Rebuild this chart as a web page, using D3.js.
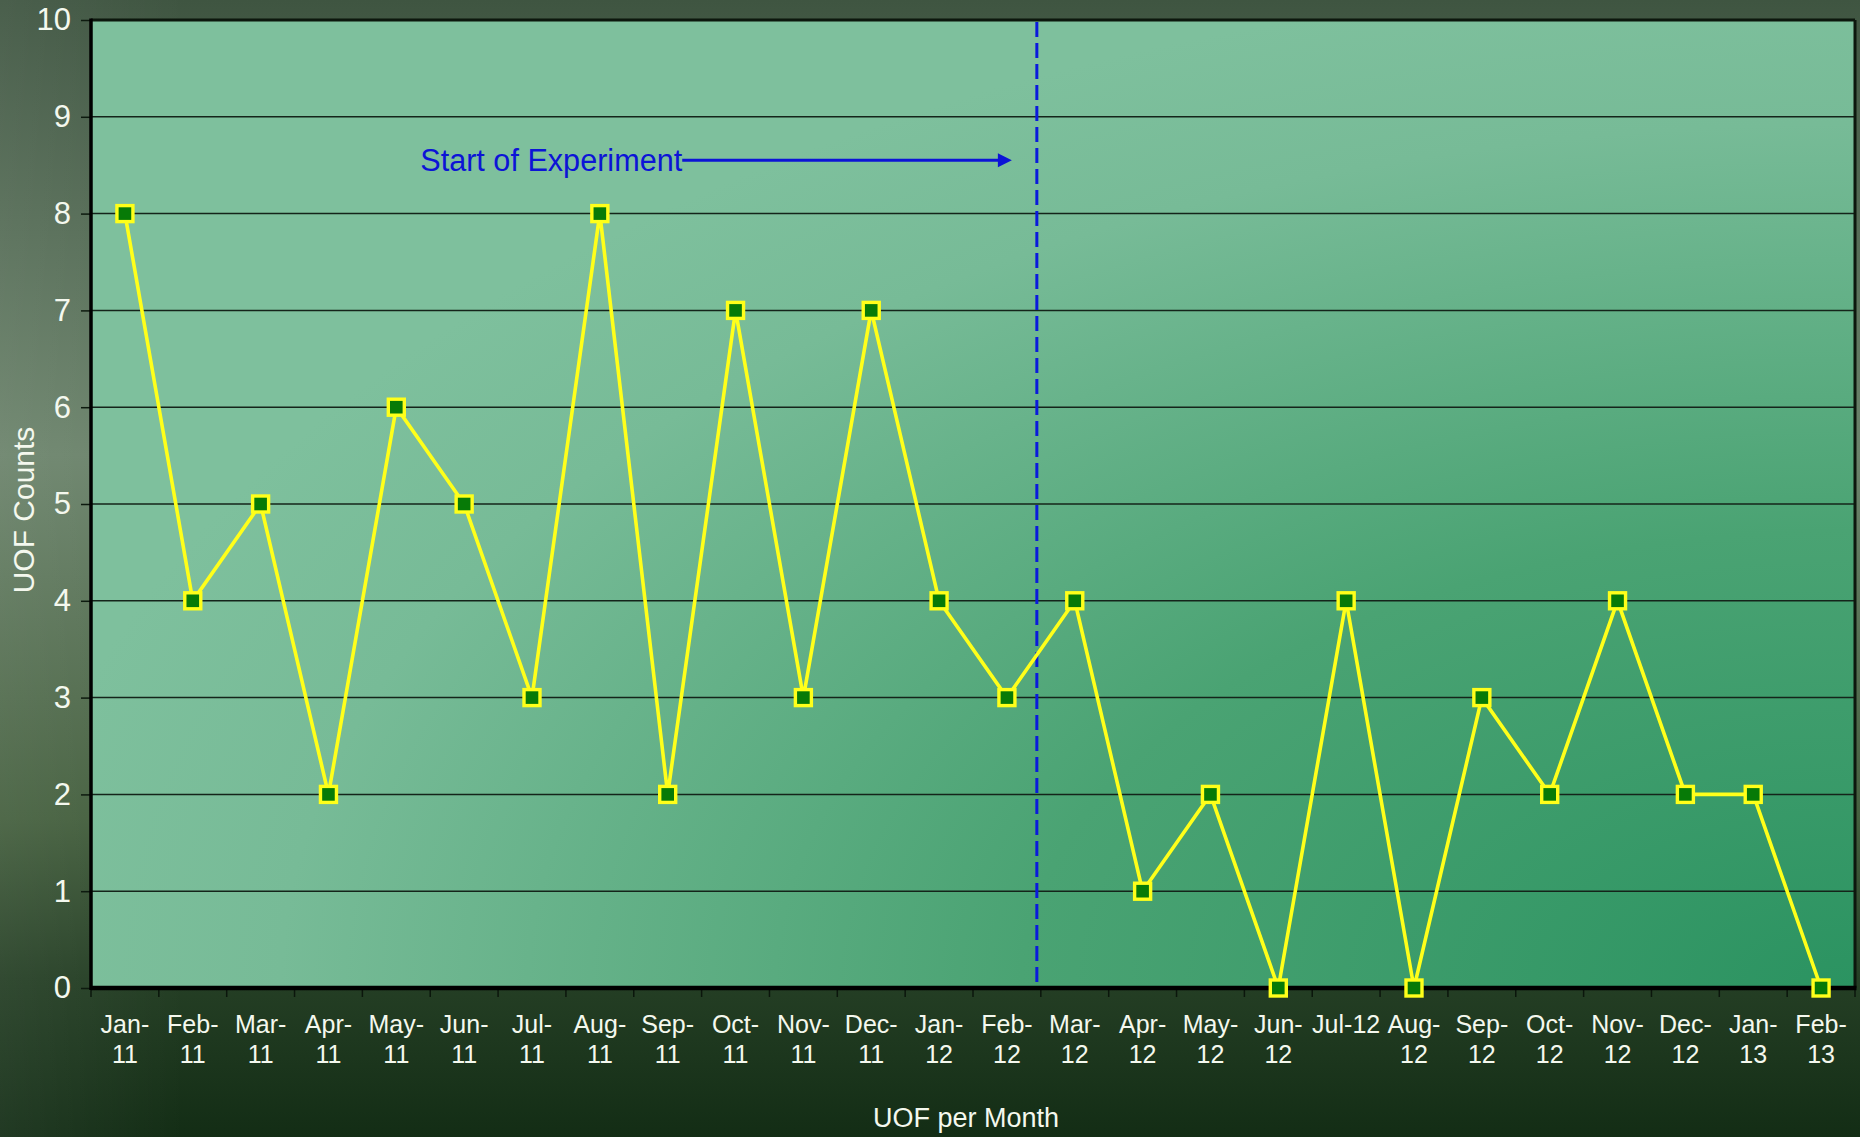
<!DOCTYPE html>
<html>
  <head>
    <meta charset="utf-8">
    <title>UOF per Month</title>
    <script src="https://d3js.org/d3.v7.min.js"></script>
    <style>
      body { margin: 0; background: #2a4029; }
      text { font-family: "Liberation Sans", Arial, sans-serif; }
    </style>
  </head>
  <body>
  <script>
  // data
  var months = ["Jan-11","Feb-11","Mar-11","Apr-11","May-11","Jun-11","Jul-11","Aug-11","Sep-11","Oct-11","Nov-11","Dec-11",
                "Jan-12","Feb-12","Mar-12","Apr-12","May-12","Jun-12","Jul-12","Aug-12","Sep-12","Oct-12","Nov-12","Dec-12",
                "Jan-13","Feb-13"];
  var uofCounts = [8,4,5,2,6,5,3,8,2,7,3,7,4,3,4,1,2,0,4,0,3,2,4,2,2,0];
  var yTicks = [0,1,2,3,4,5,6,7,8,9,10];
  var noWrap = ["Jul-12"];   // this one sits on a single line
  var experimentStart = "Mar-12";

  // basic setting
  var width = 1860, height = 1137;
  var margin = {top: 20, right: 5, bottom: 149, left: 91};
  var w = width - margin.left - margin.right;
  var h = height - margin.top - margin.bottom;

  var x = d3.scaleBand().domain(months).range([0, w]);
  var y = d3.scaleLinear().domain([0, 10]).range([h, 0]);

  var svg = d3.select("body").append("svg")
      .attr("width", width)
      .attr("height", height);

  var defs = svg.append("defs");
  var bg = defs.append("linearGradient").attr("id", "bg")
      .attr("x1", 0).attr("y1", 0).attr("x2", 0).attr("y2", 1);
  bg.append("stop").attr("offset", 0).attr("stop-color", "#3f5541");
  bg.append("stop").attr("offset", 0.4).attr("stop-color", "#6c846c");
  bg.append("stop").attr("offset", 0.72).attr("stop-color", "#45603f");
  bg.append("stop").attr("offset", 0.86).attr("stop-color", "#253f25");
  bg.append("stop").attr("offset", 1).attr("stop-color", "#132d15");

  var bgSide = defs.append("linearGradient").attr("id", "bgSide")
      .attr("x1", 0).attr("y1", 0).attr("x2", 1).attr("y2", 0);
  bgSide.append("stop").attr("offset", 0).attr("stop-color", "#ffffff").attr("stop-opacity", 0.06);
  bgSide.append("stop").attr("offset", 0.1).attr("stop-color", "#ffffff").attr("stop-opacity", 0);

  var plotBg = defs.append("radialGradient").attr("id", "plotBg")
      .attr("cx", 1).attr("cy", 1).attr("r", 1.05).attr("fx", 1).attr("fy", 1);
  plotBg.append("stop").attr("offset", 0).attr("stop-color", "#2b9361");
  plotBg.append("stop").attr("offset", 0.45).attr("stop-color", "#4aa373");
  plotBg.append("stop").attr("offset", 0.85).attr("stop-color", "#77bb97");
  plotBg.append("stop").attr("offset", 1).attr("stop-color", "#7ec09d");

  svg.append("rect").attr("width", width).attr("height", height).attr("fill", "url(#bg)");
  svg.append("rect").attr("width", width).attr("height", height).attr("fill", "url(#bgSide)");

  var g = svg.append("g").attr("transform", "translate(" + margin.left + "," + margin.top + ")");

  g.append("rect")
      .attr("width", w).attr("height", h)
      .attr("fill", "url(#plotBg)");

  // gridlines
  g.selectAll(".grid")
      .data(yTicks.filter(function(d) { return d > 0 && d < 10; }))
      .enter().append("line")
      .attr("class", "grid")
      .attr("x1", 0).attr("x2", w)
      .attr("y1", function(d) { return y(d); })
      .attr("y2", function(d) { return y(d); })
      .attr("stroke", "#14241a")
      .attr("stroke-width", 1.5);

  // y axis
  var yAxis = d3.axisLeft(y).tickValues(yTicks).tickSize(10).tickPadding(10).tickFormat(d3.format("d"));
  var yg = g.append("g").call(yAxis);
  yg.select(".domain").remove();
  yg.selectAll(".tick line").attr("stroke", "#0d1a0f").attr("stroke-width", 1.5);
  yg.selectAll(".tick text")
      .attr("fill", "#f4f8ee")
      .attr("font-size", "31px")
      .attr("x", -20);

  // x axis ticks at band edges
  var edges = months.map(function(d) { return x(d); }).concat([w]);
  g.selectAll(".xtick")
      .data(edges)
      .enter().append("line")
      .attr("class", "xtick")
      .attr("x1", function(d) { return d; }).attr("x2", function(d) { return d; })
      .attr("y1", h).attr("y2", h + 9)
      .attr("stroke", "#0b160c").attr("stroke-width", 1.5);

  // x labels
  var xl = g.selectAll(".xlab")
      .data(months)
      .enter().append("text")
      .attr("class", "xlab")
      .attr("text-anchor", "middle")
      .attr("fill", "#f4f8ee")
      .attr("font-size", "25px")
      .attr("transform", function(d) { return "translate(" + (x(d) + x.bandwidth() / 2) + "," + (h + 45) + ")"; });
  xl.each(function(d) {
    var lines = noWrap.indexOf(d) >= 0 ? [d] : [d.slice(0, 4), d.slice(4)];
    d3.select(this).selectAll("tspan")
      .data(lines)
      .enter().append("tspan")
      .attr("x", 0)
      .attr("y", function(l, i) { return i * 30; })
      .text(function(l) { return l; });
  });

  // frame
  g.append("line").attr("x1", 0).attr("x2", w).attr("y1", 0).attr("y2", 0)
      .attr("stroke", "#0c170d").attr("stroke-width", 3);
  g.append("line").attr("x1", w).attr("x2", w).attr("y1", 0).attr("y2", h)
      .attr("stroke", "#0c170d").attr("stroke-width", 3);
  g.append("line").attr("x1", 0).attr("x2", 0).attr("y1", -1.5).attr("y2", h + 2)
      .attr("stroke", "#000").attr("stroke-width", 3.5);
  g.append("line").attr("x1", 0).attr("x2", w + 1.5).attr("y1", h).attr("y2", h)
      .attr("stroke", "#000").attr("stroke-width", 4.5);

  // experiment start marker
  var startX = x(experimentStart) - 4;
  g.append("line")
      .attr("x1", startX).attr("x2", startX)
      .attr("y1", 2).attr("y2", h - 2)
      .attr("stroke", "#0a1adc")
      .attr("stroke-width", 3)
      .attr("stroke-dasharray", "15,6");

  var arrowY = y(8.55);
  var textX = x("Jun-11") - 10;
  g.append("text")
      .attr("x", textX).attr("y", arrowY + 11)
      .attr("fill", "#0c14d6")
      .attr("font-size", "31px")
      .attr("textLength", 262)
      .attr("lengthAdjust", "spacingAndGlyphs")
      .text("Start of Experiment");
  g.append("line")
      .attr("x1", textX + 262).attr("x2", startX - 35)
      .attr("y1", arrowY).attr("y2", arrowY)
      .attr("stroke", "#0c14d6").attr("stroke-width", 3);
  g.append("path")
      .attr("d", "M" + (startX - 25) + "," + arrowY + "L" + (startX - 39) + "," + (arrowY - 7) +
                 "L" + (startX - 39) + "," + (arrowY + 7) + "Z")
      .attr("fill", "#0c14d6");

  // series line
  var line = d3.line()
      .x(function(d, i) { return x(months[i]) + x.bandwidth() / 2; })
      .y(function(d) { return y(d); });

  g.append("path")
      .datum(uofCounts)
      .attr("d", line)
      .attr("fill", "none")
      .attr("stroke", "#ffff1a")
      .attr("stroke-width", 3.6)
      .attr("stroke-linejoin", "miter");

  var s = 16;
  g.selectAll(".pt")
      .data(uofCounts)
      .enter().append("rect")
      .attr("class", "pt")
      .attr("x", function(d, i) { return x(months[i]) + x.bandwidth() / 2 - s / 2; })
      .attr("y", function(d) { return y(d) - s / 2; })
      .attr("width", s).attr("height", s)
      .attr("fill", "#077a07")
      .attr("stroke", "#ffff1a")
      .attr("stroke-width", 3.4);

  // titles
  svg.append("text")
      .attr("x", 966).attr("y", 1127)
      .attr("text-anchor", "middle")
      .attr("fill", "#f4f8ee")
      .attr("font-size", "27px")
      .text("UOF per Month");

  svg.append("text")
      .attr("transform", "translate(34,510) rotate(-90)")
      .attr("text-anchor", "middle")
      .attr("fill", "#f4f8ee")
      .attr("font-size", "30px")
      .text("UOF Counts");
  </script>
  </body>
</html>
